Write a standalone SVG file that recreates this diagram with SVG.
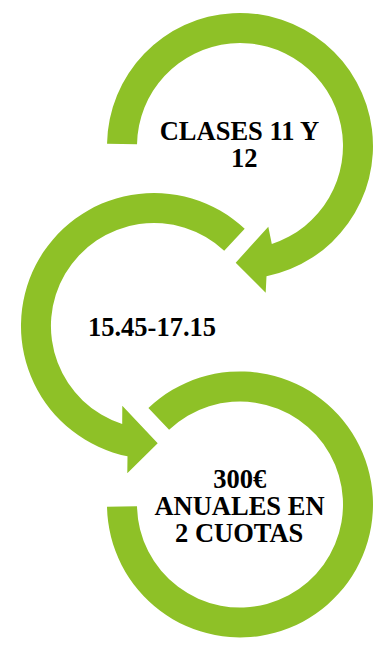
<svg xmlns="http://www.w3.org/2000/svg" width="385" height="649" viewBox="0 0 385 649">
<style>
.arrow{fill:#8EC127;stroke:none}
.lbl{font-family:"Liberation Serif","Times New Roman",serif;font-weight:bold;font-size:26.5px;fill:#000;text-anchor:middle}
</style>
<rect width="385" height="649" fill="#fff"/>
<g id="connectors">
<path id="arc1" class="arrow" d="M107.02,143.68 A133,133 0 1 1 266.5,276.3 L265.7,292.7 L235.7,262.7 L268.3,226.7 L271.8,244 A103,103 0 1 0 137.02,144.2 Z"/>
<path id="arc2" class="arrow" d="M244.7,228.7 A133,133 0 1 0 127.5,456.3 L127.3,473.3 L157.7,443.3 L122.3,405.7 L122.2,424 A103,103 0 1 1 224.2,250.7 Z"/>
<path id="arc3" class="arrow" d="M148.4,408 A133,133 0 1 1 107.02,506.8 L137.02,506.3 A103,103 0 1 0 169.1,429.8 Z"/>
</g>
<g id="node1">
<text class="lbl" x="239.5" y="140">CLASES 11 Y</text>
<text class="lbl" x="244.3" y="167">12</text>
</g>
<g id="node2">
<text class="lbl" x="152" y="336">15.45-17.15</text>
</g>
<g id="node3">
<text class="lbl" x="239.7" y="488">300€</text>
<text class="lbl" x="239.5" y="515">ANUALES EN</text>
<text class="lbl" x="239.2" y="542">2 CUOTAS</text>
</g>
</svg>
